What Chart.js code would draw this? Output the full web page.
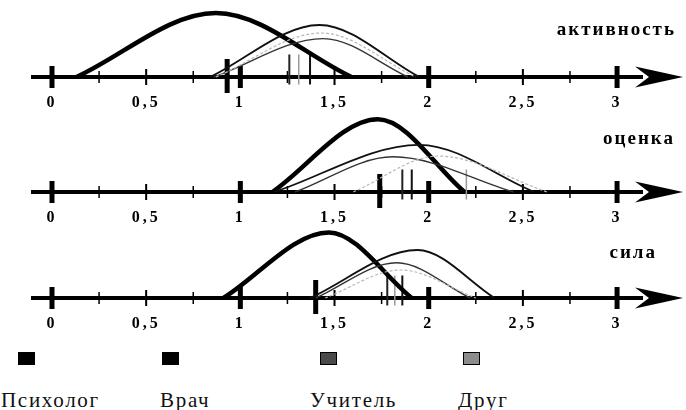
<!DOCTYPE html>
<html>
<head>
<meta charset="utf-8">
<script src="https://cdn.jsdelivr.net/npm/chart.js@4.4.1/dist/chart.umd.min.js"></script>
<style>
  html, body { margin: 0; padding: 0; background: #fff; }
  #wrap { position: relative; width: 686px; height: 410px; overflow: hidden; }
  .row { position: absolute; left: 0; width: 686px; }
  .sq { position: absolute; top: 352px; width: 17px; height: 13px; box-sizing: border-box; border: 1px solid #000; }
  .lbl { position: absolute; top: 390px; font-family: "Liberation Serif", serif; font-size: 21px;
         line-height: 21px; letter-spacing: 1.7px; color: #111; white-space: nowrap; }
</style>
</head>
<body>
<div id="wrap"></div>
<script>
// --- data ---
const rowNames = ['активность', 'оценка', 'сила'];
const groups = ['Психолог', 'Врач', 'Учитель', 'Друг'];
const tickLabels = [0, 0.5, 1, 1.5, 2, 2.5, 3];
const majorTicks = [0, 1, 2, 3];
const halfTicks = [0.5, 1.5, 2.5];
const quarterTicks = [0.25, 0.75, 1.25, 1.75, 2.25, 2.75];

// arcs per row, one entry per group: where it starts, where its top is, top height, where it ends
const arcStart = [[0.13, 0.84, 0.86, 0.87], [1.17, 1.18, 1.29, 1.60], [0.91, 1.37, 1.40, 1.45]];
const arcTopX  = [[0.87, 1.42, 1.44, 1.43], [1.73, 1.95, 1.81, 2.05], [1.47, 1.94, 1.83, 1.85]];
const arcTopY  = [[0.80, 0.65, 0.48, 0.55], [0.91, 0.59, 0.44, 0.45], [0.82, 0.60, 0.44, 0.35]];
const arcEnd   = [[1.59, 1.95, 1.89, 1.93], [2.19, 2.56, 2.45, 2.63], [1.91, 2.35, 2.22, 2.25]];
// vertical marks (means) per row, one per group
const meanMarks = [[0.93, 1.37, 1.26, 1.31], [1.74, 1.91, 1.86, 2.20], [1.40, 1.86, 1.78, 1.82]];

// --- styling ---
const lineColor = ['#000', '#111', '#333', '#b8b8b8'];
const lineWidth = [4.5, 1.8, 1.4, 1.2];
const markColor = ['#000', '#111', '#222', '#999'];
const rowBase = [77, 192, 298];
const titleAt = [[676, 29], [675, 23], [657, 31]];
const legendSq = [18, 162, 320, 463];
const legendTx = [1, 160, 310, 458];
const legendFill = ['#000', '#000', '#4a4a4a', '#8c8c8c'];

const axisPlugin = {
    id: 'axisArrow',
    beforeDraw(chart) {
        chart.ctx.letterSpacing = '3px';
    },
    beforeDatasetsDraw(chart) {
        const { ctx, chartArea } = chart;
        const x = chart.scales.x, y = chart.scales.y;
        const y0 = y.getPixelForValue(0);
        const left = chartArea.left + 31, tip = chartArea.right - 3;
        ctx.save();
        ctx.fillStyle = '#000';
        ctx.fillRect(left, y0 - 2, tip - 40 - left, 4);
        // arrow head
        ctx.beginPath();
        ctx.moveTo(tip, y0);
        ctx.lineTo(tip - 48, y0 - 10.5);
        ctx.lineTo(tip - 34, y0);
        ctx.lineTo(tip - 48, y0 + 10.5);
        ctx.closePath();
        ctx.fill();
        const mark = (vals, w, h) => vals.forEach(v => {
            const px = x.getPixelForValue(v);
            ctx.fillRect(px - w / 2, y0 - h, w, 2 * h);
        });
        mark(majorTicks, 5, 11);
        mark(halfTicks, 2, 8);
        mark(quarterTicks, 1.5, 6);
        ctx.restore();
    }
};

const titlePlugin = {
    id: 'rowTitle',
    afterDraw(chart, args, opts) {
        const ctx = chart.ctx;
        ctx.save();
        ctx.letterSpacing = '2px';
        ctx.font = 'bold 19px "Liberation Serif", serif';
        ctx.fillStyle = '#000';
        ctx.textAlign = 'right';
        ctx.textBaseline = 'middle';
        ctx.fillText(opts.text, opts.x, opts.y);
        ctx.restore();
    }
};

const wrap = document.getElementById('wrap');

rowNames.forEach((name, r) => {
    const div = document.createElement('div');
    div.className = 'row';
    div.style.top = (rowBase[r] - 76) + 'px';
    div.style.height = '116px';
    const cv = document.createElement('canvas');
    cv.width = 686;
    cv.height = 116;
    div.appendChild(cv);
    wrap.appendChild(div);

    const datasets = [];
    // arcs, thin ones first so the thick one lies on top
    for (let g = groups.length - 1; g >= 0; g--) {
        datasets.push({
            label: groups[g],
            data: [
                { x: arcStart[r][g], y: 0 },
                { x: arcTopX[r][g], y: arcTopY[r][g] },
                { x: arcEnd[r][g], y: 0 }
            ],
            borderColor: lineColor[g],
            borderWidth: lineWidth[g],
            borderDash: g === 3 ? [3, 2] : [],
            cubicInterpolationMode: 'monotone',
            pointRadius: 0,
            fill: false,
            clip: false
        });
    }
    // mean marks
    groups.forEach((gName, g) => {
        datasets.push({
            label: gName + ' mean',
            data: [{ x: meanMarks[r][g], y: g === 0 ? 0.0125 : 0.094 }],
            showLine: false,
            pointStyle: 'line',
            pointRotation: 90,
            pointRadius: g === 0 ? 17 : 15,
            pointBorderWidth: g === 0 ? 5 : (g === 3 ? 1.5 : 2),
            pointBorderColor: markColor[g],
            clip: false
        });
    });

    new Chart(cv, {
        type: 'line',
        data: { datasets: datasets },
        plugins: [axisPlugin, titlePlugin],
        options: {
            responsive: false,
            animation: false,
            events: [],
            layout: { padding: 0, autoPadding: false },
            scales: {
                x: {
                    type: 'linear',
                    min: -0.276,
                    max: 3.366,
                    position: { y: 0 },
                    grid: { display: false },
                    border: { display: false },
                    afterBuildTicks: s => { s.ticks = tickLabels.map(v => ({ value: v })); },
                    ticks: {
                        padding: 8,
                        color: '#000',
                        maxRotation: 0,
                        autoSkip: false,
                        font: { family: '"Liberation Serif", serif', size: 16, weight: 'bold' },
                        callback: v => String(v).replace('.', ',')
                    }
                },
                y: { display: false, min: -0.5, max: 0.95 }
            },
            plugins: {
                legend: { display: false },
                tooltip: { enabled: false },
                rowTitle: { text: name, x: titleAt[r][0], y: titleAt[r][1] }
            }
        }
    });
});

// legend: square above the name
groups.forEach((g, i) => {
    const sq = document.createElement('div');
    sq.className = 'sq';
    sq.style.left = legendSq[i] + 'px';
    sq.style.background = legendFill[i];
    wrap.appendChild(sq);
    const lb = document.createElement('div');
    lb.className = 'lbl';
    lb.style.left = legendTx[i] + 'px';
    lb.textContent = g;
    wrap.appendChild(lb);
});
</script>
</body>
</html>
